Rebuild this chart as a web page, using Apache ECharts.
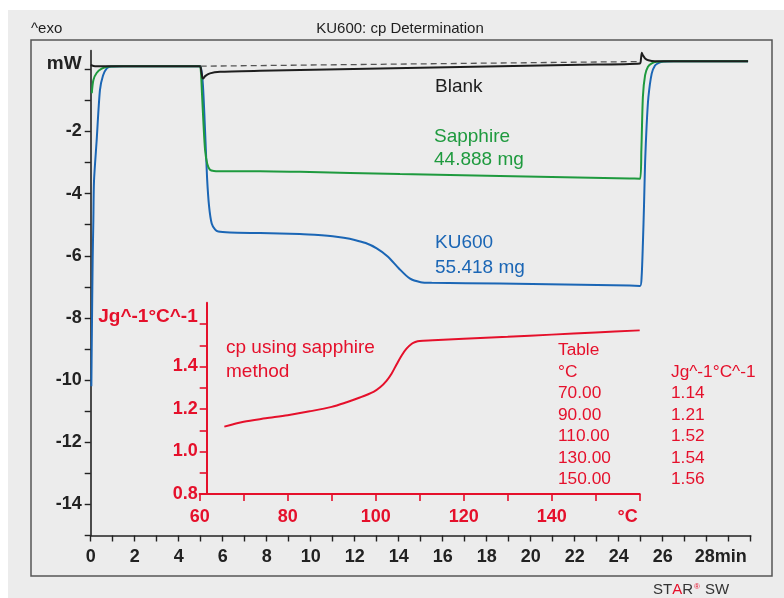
<!DOCTYPE html>
<html>
<head>
<meta charset="utf-8">
<script src="https://cdn.jsdelivr.net/npm/echarts@6/dist/echarts.min.js"></script>
<style>
html, body { margin: 0; padding: 0; background: #ffffff; }
#chart { width: 784px; height: 598px; }
</style>
</head>
<body>
<div id="chart"></div>
<script>
// DSC heat flow curves: [time in min, heat flow in mW]
const kuCurve = [[0.03,-10.2],[0.05,-8.7],[0.09,-6.1],[0.12,-4.9],[0.15,-3.6],[0.27,-2.3],[0.42,-0.67],[0.56,-0.2],[0.73,0.03],[0.92,0.09],[1.5,0.1],[4.9,0.1],[5.0,0.08],[5.1,-0.5],[5.2,-2.0],[5.29,-3.5],[5.38,-4.4],[5.5,-4.96],[5.65,-5.15],[5.8,-5.22],[6.33,-5.25],[7.7,-5.27],[9.5,-5.3],[10.5,-5.34],[11.0,-5.37],[11.5,-5.42],[12.0,-5.49],[12.5,-5.59],[13.0,-5.76],[13.5,-6.02],[14.0,-6.4],[14.5,-6.73],[15.0,-6.85],[15.5,-6.87],[18.6,-6.89],[24.5,-6.96],[24.97,-6.97],[25.04,-6.7],[25.1,-5.6],[25.15,-4.4],[25.2,-3.0],[25.27,-1.8],[25.35,-0.9],[25.5,-0.14],[25.65,0.12],[25.8,0.2],[26.03,0.25],[26.5,0.26],[29.88,0.26]];
const sapphireCurve = [[0.05,-0.77],[0.12,-0.35],[0.27,-0.12],[0.5,0.02],[0.8,0.09],[1.3,0.1],[4.9,0.1],[4.99,0.08],[5.06,-0.8],[5.13,-1.8],[5.2,-2.6],[5.3,-3.05],[5.42,-3.23],[5.6,-3.27],[6.2,-3.28],[7.7,-3.28],[9.51,-3.3],[14.06,-3.37],[18.6,-3.43],[24.5,-3.51],[24.97,-3.52],[25.03,-2.6],[25.1,-0.88],[25.2,-0.19],[25.33,0.08],[25.5,0.19],[25.72,0.24],[26.2,0.26],[29.88,0.26]];
const blankCurve = [[0.0,0.14],[0.2,0.1],[0.6,0.1],[4.9,0.1],[4.98,0.1],[5.04,-0.12],[5.08,-0.28],[5.12,-0.3],[5.2,-0.22],[5.42,-0.13],[5.88,-0.08],[7.7,-0.05],[22.24,0.15],[24.97,0.19],[25.01,0.32],[25.05,0.53],[25.1,0.45],[25.2,0.35],[25.35,0.29],[25.65,0.26],[26.2,0.26],[29.88,0.26]];
const baselineLine = [[5.0,0.1],[25.0,0.25]];

// Specific heat result: [temperature in °C, cp in J/(g·°C)]
const cpCurve = [[65.6,1.117],[70,1.14],[75,1.156],[80,1.171],[85,1.189],[90,1.21],[93.4,1.232],[96.4,1.254],[99.5,1.281],[101,1.302],[102.5,1.334],[103.6,1.366],[104.8,1.412],[105.9,1.452],[107,1.484],[108.2,1.507],[109,1.515],[110,1.52],[113,1.523],[120,1.531],[130,1.54],[140,1.55],[150,1.56],[160,1.57]];

// Result table
const tableTemps = [70, 90, 110, 130, 150];
const tableCp = [1.14, 1.21, 1.52, 1.54, 1.56];

const FONT = "'Liberation Sans', Arial, sans-serif";
const RED = '#e5102b';
const GREEN = '#1e9a3e';
const BLUE = '#1b66b5';
const INK = '#1e1e1e';
const AXIS = '#222222';

const chart = echarts.init(document.getElementById('chart'), null, { renderer: 'canvas' });

function txt(x, y, text, color, size, extra) {
  return Object.assign({
    type: 'text', z: 50,
    style: {
      x: x, y: y, text: text, fill: color,
      fontSize: size, fontFamily: FONT, fontWeight: 'normal',
      align: 'left', verticalAlign: 'middle',
      textAlign: 'left', textVerticalAlign: 'middle'
    }
  }, extra || {});
}

const graphics = [
  { type: 'rect', z: -100, shape: { x: 8, y: 10, width: 776, height: 588 }, style: { fill: '#ececec' } },
  { type: 'rect', z: -90, shape: { x: 31, y: 40, width: 741, height: 536 }, style: { fill: 'none', stroke: '#555555', lineWidth: 1.5 } },
  txt(31, 29, '^exo', INK, 15),
  { type: 'text', z: 50, style: { x: 400, y: 29, text: 'KU600: cp Determination', fill: INK, fontSize: 15, fontFamily: FONT, align: 'center', verticalAlign: 'middle', textAlign: 'center', textVerticalAlign: 'middle' } },
  txt(435, 87, 'Blank', INK, 19),
  txt(434, 137, 'Sapphire', GREEN, 19),
  txt(434, 160, '44.888 mg', GREEN, 19),
  txt(435, 243, 'KU600', BLUE, 19),
  txt(435, 268, '55.418 mg', BLUE, 19),
  txt(226, 348, 'cp using sapphire', RED, 19),
  txt(226, 372, 'method', RED, 19),
  txt(558, 350, 'Table', RED, 17.3),
  txt(558, 372, '°C', RED, 17.3),
  txt(671, 372, 'Jg^-1°C^-1', RED, 17.3)
];
tableTemps.forEach(function (t, i) {
  const y = 393.5 + i * 21.5;
  graphics.push(txt(558, y, t.toFixed(2), RED, 17.3));
  graphics.push(txt(671, y, tableCp[i].toFixed(2), RED, 17.3));
});
graphics.push({
  type: 'text', z: 50,
  style: {
    x: 653, y: 590, verticalAlign: 'middle', textVerticalAlign: 'middle',
    text: '{k|ST}{r|A}{k|R}{s|®}{k| SW}',
    rich: {
      k: { fontSize: 15, fontFamily: FONT, fill: '#333333', color: '#333333' },
      r: { fontSize: 15, fontFamily: FONT, fill: RED, color: RED },
      s: { fontSize: 8, fontFamily: FONT, fill: RED, color: RED, verticalAlign: 'top', padding: [0, 1, 6, 1] }
    }
  }
});

const blackLabel = { color: AXIS, fontSize: 18, fontWeight: 'bold', fontFamily: FONT };
const redLabel = { color: RED, fontSize: 18, fontWeight: 'bold', fontFamily: FONT };

const option = {
  animation: false,
  backgroundColor: '#ffffff',
  graphic: graphics,
  grid: [
    { left: 90.7, right: 33.3, top: 50.65, bottom: 62.5 },
    { left: 90.7, right: 33.3, top: 69.3, bottom: 62.5 },
    { left: 199.7, right: 144.3, top: 302.75, bottom: 104 },
    { left: 199.7, right: 144.3, top: 324, bottom: 104 }
  ],
  xAxis: [
    {
      gridIndex: 0, type: 'value', min: 0, max: 30, interval: 1,
      axisLine: { onZero: false, lineStyle: { color: AXIS, width: 1.6 } },
      axisTick: { length: 6, lineStyle: { color: AXIS, width: 1.4 } },
      splitLine: { show: false },
      axisLabel: Object.assign({}, blackLabel, {
        margin: 13,
        formatter: function (v) {
          if (v === 28) return '{m|28min}';
          return (v % 2 === 0 && v < 28) ? String(v) : '';
        },
        rich: { m: Object.assign({}, blackLabel, { padding: [0, 0, 0, 28] }) }
      })
    },
    { gridIndex: 1, type: 'value', min: 0, max: 30, show: false },
    {
      gridIndex: 2, type: 'value', min: 60, max: 160, interval: 10,
      axisLine: { onZero: false, lineStyle: { color: RED, width: 2 } },
      axisTick: { length: 7, lineStyle: { color: RED, width: 1.6 } },
      splitLine: { show: false },
      axisLabel: Object.assign({}, redLabel, {
        margin: 14,
        formatter: function (v) {
          if (v === 160) return '{c|°C}';
          return v % 20 === 0 ? String(v) : '';
        },
        rich: { c: Object.assign({}, redLabel, { padding: [0, 24, 0, 0] }) }
      })
    },
    { gridIndex: 3, type: 'value', min: 60, max: 160, show: false }
  ],
  yAxis: [
    {
      gridIndex: 0, type: 'value', min: -15, max: 0.6,
      axisLine: { show: true, onZero: false, lineStyle: { color: AXIS, width: 1.6 } },
      axisTick: { show: false }, axisLabel: { show: false }, splitLine: { show: false }
    },
    {
      gridIndex: 1, type: 'value', min: -15, max: 0, interval: 1,
      axisLine: { show: false, onZero: false },
      axisTick: { show: true, length: 6, lineStyle: { color: AXIS, width: 1.4 } },
      splitLine: { show: false },
      axisLabel: Object.assign({}, blackLabel, {
        margin: 9,
        formatter: function (v) {
          if (v === 0) return '{u|mW}';
          return (v % 2 === 0 && v > -15) ? String(v) : '';
        },
        rich: { u: Object.assign({}, blackLabel, { fontSize: 19, padding: [0, 0, 12, 0] }) }
      })
    },
    {
      gridIndex: 2, type: 'value', min: 0.8, max: 1.7, offset: -7,
      axisLine: { show: true, onZero: false, lineStyle: { color: RED, width: 2 } },
      axisTick: { show: false }, axisLabel: { show: false }, splitLine: { show: false }
    },
    {
      gridIndex: 3, type: 'value', min: 0.8, max: 1.6, interval: 0.1, offset: -7,
      axisLine: { show: false, onZero: false },
      axisTick: { show: true, length: 7, lineStyle: { color: RED, width: 1.6 } },
      splitLine: { show: false },
      axisLabel: Object.assign({}, redLabel, {
        margin: 9,
        formatter: function (v) {
          const r = Math.round(v * 10) / 10;
          if (r === 1.6) return '{u|Jg^-1°C^-1}';
          return (Math.round(r * 10) % 2 === 0) ? r.toFixed(1) : '';
        },
        rich: { u: Object.assign({}, redLabel, { fontSize: 19, padding: [0, 0, 14, 0] }) }
      })
    }
  ],
  series: [
    {
      name: 'KU600', type: 'line', xAxisIndex: 0, yAxisIndex: 0, data: kuCurve,
      symbol: 'none', smooth: 0.25, z: 3,
      lineStyle: { color: BLUE, width: 2 }
    },
    {
      name: 'Sapphire', type: 'line', xAxisIndex: 0, yAxisIndex: 0, data: sapphireCurve,
      symbol: 'none', smooth: 0.25, z: 4,
      lineStyle: { color: GREEN, width: 2 }
    },
    {
      name: 'Blank', type: 'line', xAxisIndex: 0, yAxisIndex: 0, data: blankCurve,
      symbol: 'none', smooth: 0.2, z: 5,
      lineStyle: { color: INK, width: 2 }
    },
    {
      name: 'Baseline', type: 'line', xAxisIndex: 0, yAxisIndex: 0, data: baselineLine,
      symbol: 'none', z: 5,
      lineStyle: { color: '#555555', width: 1.3, type: [6, 4] }
    },
    {
      name: 'cp', type: 'line', xAxisIndex: 2, yAxisIndex: 2, data: cpCurve,
      symbol: 'none', smooth: 0.3, z: 6,
      lineStyle: { color: RED, width: 2 }
    }
  ]
};

chart.setOption(option);
</script>
</body>
</html>
